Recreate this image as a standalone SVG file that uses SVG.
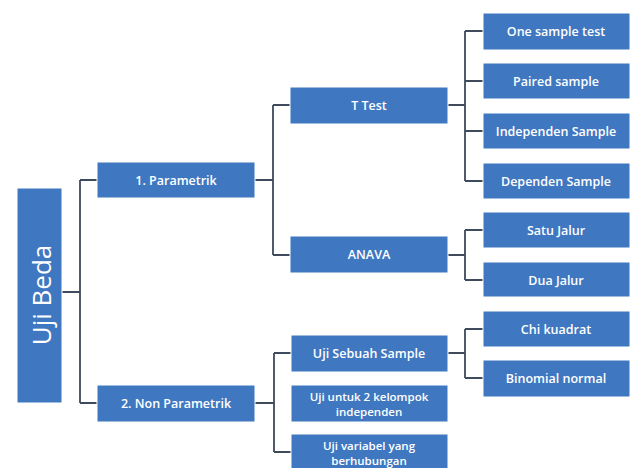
<svg xmlns="http://www.w3.org/2000/svg" width="632" height="468" viewBox="0 0 632 468">
<style>
.b{fill:#3f78c1;stroke:#ffffff;stroke-width:1}
.t{fill:#ffffff;font-family:"Open Sans","Liberation Sans",sans-serif;font-size:12.5px;font-weight:600;text-anchor:middle;dominant-baseline:central}
.s{font-size:11.5px}
.c{fill:none;stroke:#3d4b5c;stroke-width:1.8}
</style>
<rect width="632" height="468" fill="#ffffff"/>
<g id="connectors">
<path class="c" d="M62 292H80M80 180V403M80 180H97M80 403H97"/>
<path class="c" d="M255 180H273M273 105V255M273 105H290M273 255H290"/>
<path class="c" d="M255 403H274M274 353V452M274 353H291M274 452H291"/>
<path class="c" d="M448 105H465M465 31V181M465 31H483M465 81H483M465 131H483M465 181H483"/>
<path class="c" d="M448 255H465M465 230V280M465 230H483M465 280H483"/>
<path class="c" d="M448 353H465M465 329V378M465 329H483M465 378H483"/>
</g>
<g id="uji-beda"><rect class="b" x="17" y="188" width="45" height="215"/><text transform="translate(41 295) rotate(-90)" fill="#fff" font-family="'Open Sans','Liberation Sans',sans-serif" font-size="26" text-anchor="middle" dominant-baseline="central">Uji Beda</text></g>
<g id="parametrik"><rect class="b" x="97" y="162" width="158" height="36"/><text class="t" x="176" y="180">1. Parametrik</text></g>
<g id="non-parametrik"><rect class="b" x="97" y="385" width="158" height="37"/><text class="t" x="176" y="403">2. Non Parametrik</text></g>
<g id="t-test"><rect class="b" x="290" y="87" width="158" height="37"/><text class="t" x="369" y="105">T Test</text></g>
<g id="anava"><rect class="b" x="290" y="236" width="158" height="37"/><text class="t" x="369" y="254">ANAVA</text></g>
<g id="uji-sebuah"><rect class="b" x="291" y="335" width="157" height="37"/><text class="t" x="369" y="353">Uji Sebuah Sample</text></g>
<g id="uji-2-kelompok"><rect class="b" x="291" y="385" width="157" height="37"/><text class="t s" x="369" y="395.5"><tspan x="369">Uji untuk 2 kelompok</tspan><tspan x="369" dy="15">independen</tspan></text></g>
<g id="uji-variabel"><rect class="b" x="291" y="434" width="157" height="38"/><text class="t s" x="369" y="444.5"><tspan x="369">Uji variabel yang</tspan><tspan x="369" dy="15">berhubungan</tspan></text></g>
<g id="one-sample"><rect class="b" x="483" y="13" width="147" height="37"/><text class="t" x="556" y="31">One sample test</text></g>
<g id="paired"><rect class="b" x="483" y="63" width="147" height="36"/><text class="t" x="556" y="81">Paired sample</text></g>
<g id="independen"><rect class="b" x="483" y="113" width="147" height="36"/><text class="t" x="556" y="131">Independen Sample</text></g>
<g id="dependen"><rect class="b" x="483" y="163" width="147" height="36"/><text class="t" x="556" y="181">Dependen Sample</text></g>
<g id="satu-jalur"><rect class="b" x="483" y="212" width="147" height="36"/><text class="t" x="556" y="230">Satu Jalur</text></g>
<g id="dua-jalur"><rect class="b" x="483" y="262" width="147" height="35"/><text class="t" x="556" y="280">Dua Jalur</text></g>
<g id="chi-kuadrat"><rect class="b" x="483" y="311" width="147" height="36"/><text class="t" x="556" y="329">Chi kuadrat</text></g>
<g id="binomial"><rect class="b" x="483" y="360" width="147" height="37"/><text class="t" x="556" y="378">Binomial normal</text></g>
</svg>
